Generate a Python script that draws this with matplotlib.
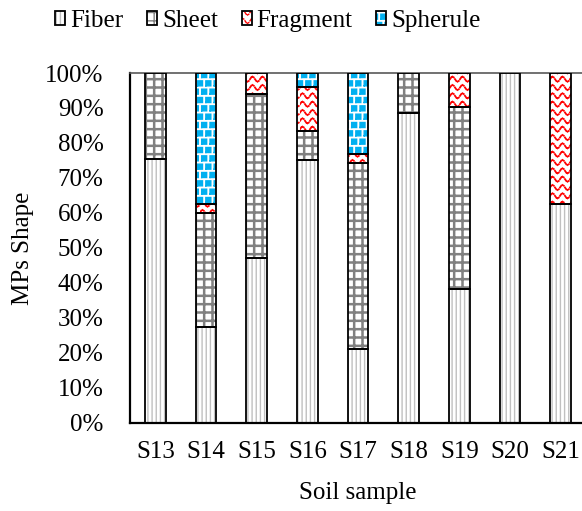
import warnings
import numpy as np
import matplotlib
matplotlib.use("Agg")
import matplotlib.pyplot as plt
import matplotlib.hatch as mhatch
from matplotlib.path import Path
from matplotlib.patches import Patch
from matplotlib.ticker import PercentFormatter

warnings.filterwarnings("ignore")

samples = ["S13", "S14", "S15", "S16", "S17", "S18", "S19", "S20", "S21"]
fiber = [75.4, 27.5, 47.0, 75.0, 21.0, 88.7, 38.1, 100.0, 62.5]
sheet = [24.6, 32.4, 47.1, 8.3, 53.2, 11.3, 52.3, 0.0, 0.0]
fragment = [0.0, 2.6, 5.9, 12.6, 2.6, 0.0, 9.6, 0.0, 37.5]
spherule = [0.0, 37.5, 0.0, 4.1, 23.2, 0.0, 0.0, 0.0, 0.0]
series_names = ["Fiber", "Sheet", "Fragment", "Spherule"]


# --- extra hatch patterns: dotted waves ('~') and small filled squares ('s')
class WaveHatch(mhatch.HatchPatternBase):
    periods = 10
    samples_per_period = 8

    def __init__(self, hatch, density):
        self.num_rows = hatch.count('~') * density
        nseg = self.periods * self.samples_per_period
        self.kept = [i for i in range(nseg) if (i % 2 == 0)]
        self.num_vertices = self.num_rows * len(self.kept) * 2

    def set_vertices_and_codes(self, vertices, codes):
        nseg = self.periods * self.samples_per_period
        xs = np.linspace(0.0, 1.0, nseg + 1)
        amp = 0.3 / self.num_rows
        k = 0
        for r in range(self.num_rows):
            y0 = (r + 0.5) / self.num_rows
            ys = y0 + amp * np.sin(2 * np.pi * self.periods * xs)
            for i in self.kept:
                vertices[k] = (xs[i], ys[i])
                vertices[k + 1] = (xs[i + 1], ys[i + 1])
                codes[k] = Path.MOVETO
                codes[k + 1] = Path.LINETO
                k += 2


class SquareHatch(mhatch.Shapes):
    size = 0.3
    filled = True

    def __init__(self, hatch, density):
        self.num_rows = hatch.count('s') * density
        self.shape_vertices = np.array([[-1, -1], [1, -1], [1, 1], [-1, 1], [-1, -1]], float)
        self.shape_codes = np.full(5, Path.LINETO, dtype=Path.code_type)
        self.shape_codes[0] = Path.MOVETO
        super().__init__(hatch, density)


mhatch._hatch_types.extend([WaveHatch, SquareHatch])

plt.rcParams['font.family'] = ['Liberation Serif', 'DejaVu Serif']
FS = 18

styles = {
    "Fiber": dict(hatch="||||", hcolor="#c0c0c0", hlw=1.0),
    "Sheet": dict(hatch="++", hcolor="#808080", hlw=1.8),
    "Fragment": dict(hatch="~~", hcolor="#ff0000", hlw=1.3),
    "Spherule": dict(hatch="ss", hcolor="#00b0f0", hlw=1.0),
}

fig = plt.figure(figsize=(5.82, 5.11), dpi=100)
ax = fig.add_axes([130 / 582, (511 - 422.7) / 511, 456 / 582, 349.7 / 511])

x = np.arange(len(samples))
width = 0.41
bottom = np.zeros(len(samples))
handles = []
for name, vals in zip(series_names, [fiber, sheet, fragment, spherule]):
    vals = np.asarray(vals, float)
    st = styles[name]
    keep = vals > 0
    with plt.rc_context({"hatch.linewidth": st["hlw"]}):
        ax.bar(x[keep], vals[keep], bottom=bottom[keep], width=width, color="white",
               edgecolor=st["hcolor"], hatch=st["hatch"], linewidth=0, zorder=2)
        hp = Patch(facecolor="white", edgecolor=st["hcolor"], hatch=st["hatch"], linewidth=0)
    ax.bar(x[keep], vals[keep], bottom=bottom[keep], width=width, fill=False,
           edgecolor="black", linewidth=1.3, zorder=3)
    bottom += vals
    handles.append((hp, Patch(fill=False, edgecolor="black", linewidth=1.3)))

ax.set_xlim(-0.5, len(samples) - 0.5)
ax.set_ylim(0, 100)
ax.set_yticks(np.arange(0, 101, 10))
ax.yaxis.set_major_formatter(PercentFormatter(decimals=0))
ax.set_xticks(x)
ax.set_xticklabels(samples)
ax.tick_params(axis="both", length=0, labelsize=FS)
ax.tick_params(axis="y", pad=19)
ax.tick_params(axis="x", pad=13)

for side in ["left", "bottom"]:
    ax.spines[side].set_linewidth(1.6)
    ax.spines[side].set_color("black")
ax.spines["top"].set_color("#595959")
ax.spines["top"].set_linewidth(1.2)
ax.spines["right"].set_visible(False)

ax.set_xlabel("Soil sample", fontsize=FS, labelpad=14)
fig.text(23 / 582, 1 - 248 / 511, "MPs Shape", rotation=90, ha="center", va="center",
         fontsize=FS)

fig.legend(handles, series_names, loc="center", bbox_to_anchor=(268 / 582, 1 - 21 / 511),
           ncol=4, frameon=False, fontsize=FS, handlelength=0.4, handleheight=0.45,
           handletextpad=0.2, columnspacing=0.95, borderpad=0.2)

fig.savefig("out.png", dpi=100)
